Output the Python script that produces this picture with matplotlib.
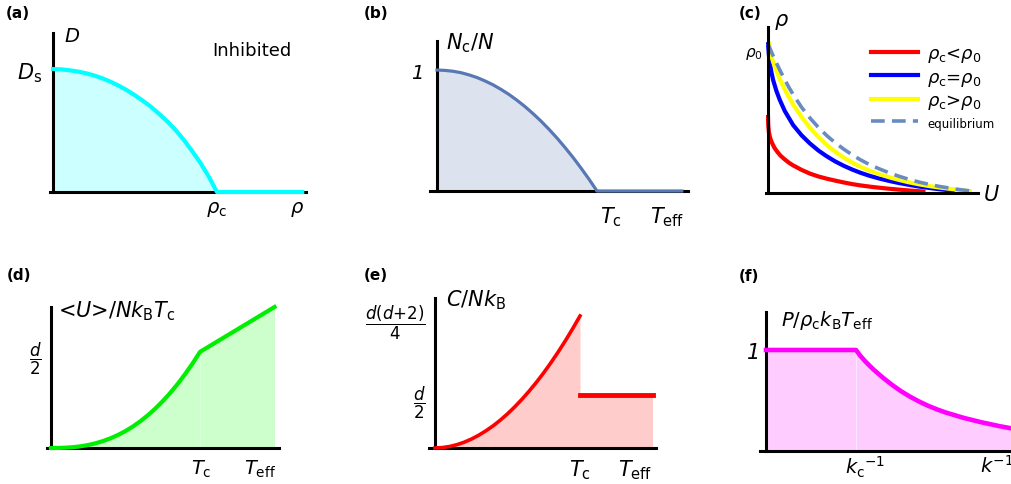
import matplotlib
matplotlib.use("Agg")
import matplotlib.pyplot as plt

plt.rcParams['font.family'] = 'DejaVu Sans'
plt.rcParams['mathtext.fontset'] = 'dejavusans'

# ---------------- data ----------------
# (a) D vs rho, rho in units of rho_c, D in units of D_s
rho_a = [0, 0.05, 0.1, 0.15, 0.2, 0.25, 0.3, 0.35, 0.4, 0.45, 0.5, 0.55, 0.6,
         0.65, 0.7, 0.75, 0.8, 0.85, 0.9, 0.95, 1.0, 1.52]
D_a = [1.0, 0.997, 0.99, 0.98, 0.966, 0.948, 0.925, 0.897, 0.865, 0.828, 0.786,
       0.74, 0.69, 0.632, 0.57, 0.5, 0.42, 0.33, 0.235, 0.125, 0.0, 0.0]
xt_a = [1.0, 1.49]
xl_a = [r'$\rho_\mathrm{c}$', r'$\rho$']

# (b) condensate fraction vs T (units of T_c)
T_b = [0, 0.05, 0.1, 0.15, 0.2, 0.25, 0.3, 0.35, 0.4, 0.45, 0.5, 0.55, 0.6,
       0.65, 0.7, 0.75, 0.8, 0.85, 0.9, 0.95, 1.0, 1.53]
Nc_b = [1.0, 0.997, 0.99, 0.978, 0.96, 0.938, 0.91, 0.878, 0.84, 0.798, 0.75,
        0.698, 0.64, 0.578, 0.51, 0.438, 0.36, 0.278, 0.19, 0.098, 0.0, 0.0]
xt_b = [1.09, 1.44]
xl_b = [r'$T_\mathrm{c}$', r'$T_\mathrm{eff}$']

# (c) rho vs U (rho in units of rho_0)
U_red = [0, 0.001, 0.004, 0.01, 0.018, 0.03, 0.045, 0.06, 0.08, 0.1, 0.12, 0.16,
         0.2, 0.24, 0.28, 0.32, 0.36, 0.4, 0.44, 0.5, 0.56, 0.62, 0.68, 0.74]
rho_red = [0.51, 0.46, 0.41, 0.37, 0.34, 0.305, 0.275, 0.25, 0.225, 0.203, 0.185,
           0.155, 0.13, 0.111, 0.096, 0.083, 0.071, 0.06, 0.051, 0.04, 0.031,
           0.023, 0.016, 0.01]
U_blue = [0, 0.004, 0.008, 0.015, 0.024, 0.04, 0.056, 0.08, 0.12, 0.16, 0.2, 0.24,
          0.28, 0.32, 0.36, 0.4, 0.44, 0.48, 0.53, 0.58, 0.62, 0.67, 0.72, 0.8, 0.88]
rho_blue = [1.0, 0.93, 0.88, 0.82, 0.76, 0.685, 0.625, 0.55, 0.455, 0.387, 0.332,
            0.285, 0.246, 0.212, 0.183, 0.158, 0.136, 0.117, 0.097, 0.08, 0.068,
            0.055, 0.043, 0.028, 0.015]
U_yel = [0.005, 0.012, 0.024, 0.04, 0.056, 0.08, 0.1, 0.12, 0.16, 0.2, 0.24, 0.28,
         0.32, 0.36, 0.4, 0.44, 0.48, 0.53, 0.58, 0.62, 0.67, 0.72, 0.77, 0.82,
         0.89, 0.96]
rho_yel = [1.0, 0.94, 0.88, 0.82, 0.765, 0.695, 0.642, 0.594, 0.51, 0.437, 0.375,
           0.322, 0.277, 0.238, 0.205, 0.176, 0.152, 0.126, 0.104, 0.089, 0.072,
           0.058, 0.046, 0.036, 0.024, 0.013]
U_eq = [0, 0.02, 0.04, 0.056, 0.08, 0.1, 0.12, 0.16, 0.2, 0.24, 0.28, 0.32, 0.36,
        0.4, 0.44, 0.48, 0.53, 0.58, 0.62, 0.67, 0.72, 0.77, 0.82, 0.9, 0.985]
rho_eq = [1.0, 0.935, 0.873, 0.826, 0.76, 0.708, 0.66, 0.575, 0.503, 0.44, 0.385,
          0.337, 0.295, 0.257, 0.223, 0.193, 0.162, 0.134, 0.114, 0.092, 0.073,
          0.057, 0.043, 0.025, 0.01]
leg_c = [r'$\rho_\mathrm{c}$<$\rho_0$', r'$\rho_\mathrm{c}$=$\rho_0$',
         r'$\rho_\mathrm{c}$>$\rho_0$', 'equilibrium']

# (d) mean energy vs T
T_d = [0, 0.05, 0.1, 0.15, 0.2, 0.25, 0.3, 0.35, 0.4, 0.45, 0.5, 0.55, 0.6,
       0.65, 0.7, 0.75, 0.8, 0.85, 0.9, 0.95, 1.0, 1.5]
U_d = [0, 0.001, 0.005, 0.013, 0.027, 0.047, 0.074, 0.109, 0.152, 0.204, 0.265,
       0.336, 0.418, 0.511, 0.615, 0.731, 0.859, 0.999, 1.153, 1.319, 1.5, 2.2]
xt_d = [1.01, 1.40]

# (e) heat capacity vs T
T_e = [0, 0.05, 0.1, 0.15, 0.2, 0.25, 0.3, 0.35, 0.4, 0.45, 0.5, 0.55, 0.6,
       0.65, 0.7, 0.75, 0.8, 0.85, 0.9, 0.95, 1.0]
C_e = [0, 0.011, 0.042, 0.093, 0.162, 0.251, 0.359, 0.485, 0.627, 0.79, 0.97,
       1.169, 1.385, 1.619, 1.869, 2.138, 2.426, 2.731, 3.053, 3.393, 3.75]
T_e2 = [1.0, 1.5]
C_e2 = [1.5, 1.5]
xt_e = [1.0, 1.38]

# (f) pressure vs k^-1 (units of k_c^-1)
k_f = [0, 1.0, 1.05, 1.1, 1.15, 1.2, 1.3, 1.4, 1.5, 1.6, 1.7, 1.8, 1.9, 2.0,
       2.2, 2.4, 2.6, 2.74]
P_f = [1.0, 1.0, 0.94, 0.89, 0.845, 0.802, 0.725, 0.655, 0.592, 0.538, 0.49,
       0.448, 0.412, 0.38, 0.327, 0.283, 0.245, 0.222]
xt_f = [1.1, 2.56]
xl_f = [r'$k_\mathrm{c}{}^{-1}$', r'$k^{-1}$']

W, H = 1012, 485
fig = plt.figure(figsize=(W / 100, H / 100), dpi=100)


def put(x, y, s, **kw):
    fig.text(x / W, 1 - y / H, s, ha='center', va='center', **kw)


def panel(left, x0, right, base, top, xmax, ymax):
    # pixel box of the axes; x0 is where the vertical axis sits
    ax = fig.add_axes([left / W, 1 - base / H, (right - left) / W, (base - top) / H])
    scale = (right - x0) / xmax
    ax.set_xlim(-(x0 - left) / scale, xmax)
    ax.set_ylim(0, ymax)
    ax.spines['left'].set_position(('data', 0))
    ax.spines[['top', 'right']].set_visible(False)
    for s in ('left', 'bottom'):
        ax.spines[s].set_linewidth(2.2)
    ax.patch.set_alpha(0)
    ax.tick_params(length=0)
    ax.set_xticks([])
    ax.set_yticks([])
    return ax


# (a)
ax = panel(50, 53, 306, 193, 34, 1.543, 1.293)
ax.fill_between(rho_a, D_a, color='#ccffff', lw=0)
ax.plot(rho_a, D_a, color='#00ffff', lw=3, zorder=3, clip_on=False)
ax.set_xticks(xt_a, xl_a, fontsize=14)
ax.set_yticks([1.0], [r'$D_\mathrm{s}$'], fontsize=15)
ax.tick_params(axis='x', pad=5)
ax.tick_params(axis='y', pad=8)
put(72, 37, r'$D$', fontsize=14)
put(252, 51, 'Inhibited', fontsize=13)

# (b)
ax = panel(430, 437, 688, 192, 42, 1.569, 1.24)
ax.fill_between(T_b, Nc_b, color='#dde3ee', lw=0)
ax.plot(T_b, Nc_b, color='#5878b4', lw=2.3, zorder=3, clip_on=False)
ax.set_xticks(xt_b, xl_b, fontsize=15)
ax.set_yticks([1.0], ['1'], fontsize=14, style='italic')
ax.tick_params(axis='x', pad=10)
ax.tick_params(axis='y', pad=10)
put(470, 43, r'$N_\mathrm{c}/N$', fontsize=15)

# (c)
ax = panel(766, 768, 978, 194, 28, 1.0, 1.114)
ax.plot(U_red, rho_red, color='#ff0000', lw=3, label=leg_c[0])
ax.plot(U_blue, rho_blue, color='#0000ff', lw=3, label=leg_c[1])
ax.plot(U_yel, rho_yel, color='#ffff00', lw=3, label=leg_c[2])
ax.plot(U_eq, rho_eq, color='#6a8bbf', lw=2.6, dashes=(3.8, 2), label=leg_c[3])
ax.set_yticks([0.953], [r'$\rho_0$'], fontsize=11)
ax.tick_params(axis='y', pad=4)
put(782, 22, r'$\rho$', fontsize=15)
put(991, 195, r'$U$', fontsize=15)
leg = ax.legend(loc='upper left', bbox_to_anchor=(871 / W, 1 - 45 / H),
                bbox_transform=fig.transFigure, frameon=False, fontsize=13,
                handlelength=2.6, handletextpad=0.5, labelspacing=0.2,
                borderpad=0, borderaxespad=0)
leg.get_texts()[3].set_fontsize(8.5)

# (d)
ax = panel(47, 51, 279, 449, 308, 1.53, 2.2)
ax.fill_between(T_d[:21], U_d[:21], color='#ccffcc', lw=0)
ax.fill_between(T_d[20:], U_d[20:], color='#ccffcc', lw=0)
ax.plot(T_d, U_d, color='#00ee00', lw=3, zorder=3, clip_on=False)
ax.set_xticks(xt_d, xl_b, fontsize=14)
ax.set_yticks([1.5], [r'$\dfrac{d}{2}$'], fontsize=12)
ax.tick_params(axis='x', pad=7)
ax.tick_params(axis='y', pad=7)
put(117, 311, r'<$U$>/$Nk_\mathrm{B}T_\mathrm{c}$', fontsize=15)

# (e)
ax = panel(429, 435, 656, 449, 299, 1.524, 4.26)
ax.fill_between(T_e, C_e, color='#ffcccc', lw=0)
ax.fill_between(T_e2, C_e2, color='#ffcccc', lw=0)
ax.plot(T_e, C_e, color='#ff0000', lw=2.6, zorder=3, clip_on=False)
ax.plot(T_e2, C_e2, color='#ff0000', lw=3.5, zorder=3, clip_on=False)
ax.set_xticks(xt_e, xl_b, fontsize=15)
ax.set_yticks([1.5, 3.75], [r'$\dfrac{d}{2}$', r'$\dfrac{d(d{+}2)}{4}$'], fontsize=12)
ax.tick_params(axis='x', pad=7)
ax.tick_params(axis='y', pad=7)
put(476, 300, r'$C/Nk_\mathrm{B}$', fontsize=15)

# (f)
ax = panel(760, 766, 1012, 452, 313, 2.733, 1.376)
ax.fill_between(k_f[:2], P_f[:2], color='#ffccff', lw=0)
ax.fill_between(k_f[1:], P_f[1:], color='#ffccff', lw=0)
ax.plot(k_f, P_f, color='#ff00ff', lw=3.3, zorder=3, clip_on=False)
ax.set_xticks(xt_f, xl_f, fontsize=14)
ax.set_yticks([1.0], ['1'], fontsize=15, style='italic')
ax.tick_params(axis='x', pad=2)
ax.tick_params(axis='y', pad=4)
put(827, 321, r'$P/\rho_\mathrm{c}k_\mathrm{B}T_\mathrm{eff}$', fontsize=14)

# panel letters
for x, y, s in [(18, 14, '(a)'), (376, 14, '(b)'), (750, 13, '(c)'),
                (19, 276, '(d)'), (376, 275, '(e)'), (749, 277, '(f)')]:
    put(x, y, s, fontsize=11, weight='bold')

fig.savefig('out.png', dpi=100)
